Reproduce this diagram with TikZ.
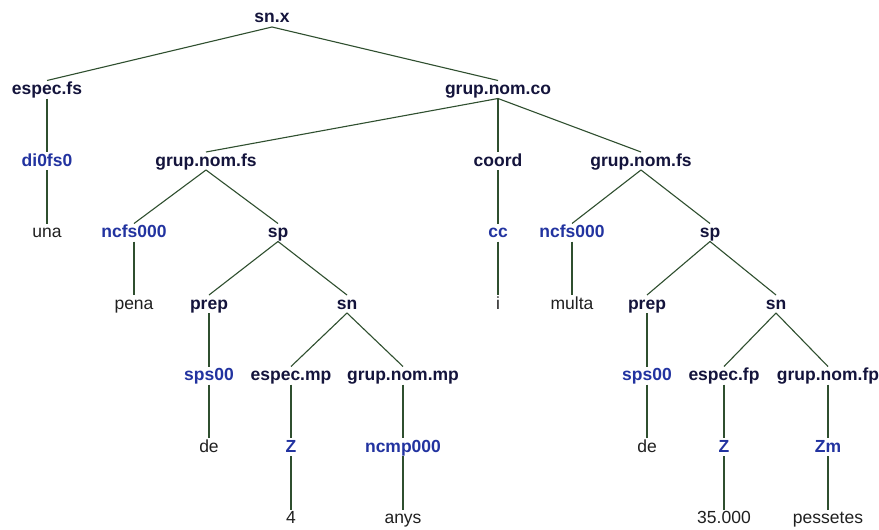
\documentclass[tikz,border=0pt]{standalone}
\usepackage{fontspec}
\setmainfont{Liberation Sans}
\definecolor{catcol}{HTML}{14143C}
\definecolor{poscol}{HTML}{2233A0}
\definecolor{wordcol}{HTML}{202020}
\definecolor{linecol}{HTML}{2F4F2F}
\begin{document}
\begin{tikzpicture}[x=1pt,y=-1pt,
  lbl/.style={anchor=base,inner sep=0pt,outer sep=0pt,text height=14pt,text depth=4pt,font=\fontsize{17.5}{20}\selectfont},
  catlbl/.style={lbl,text=catcol,font=\fontsize{17.5}{20}\selectfont\bfseries},
  taglbl/.style={lbl,text=poscol,font=\fontsize{17.5}{20}\selectfont\bfseries},
  wordlbl/.style={lbl,text=wordcol},
  conn/.style={draw=linecol,line width=1.1pt}]
\useasboundingbox[fill=white] (0,0) rectangle (879,530);
\def\ra{23}\def\rb{94.5}\def\rc{166}\def\rd{237.5}\def\re{309}\def\rf{380.5}\def\rg{452}\def\rh{523.5}
% nodes
\node[catlbl] (root) at (272,\ra) {sn.x};
\node[catlbl] (espec) at (47,\rb) {espec.fs};
\node[taglbl] (di) at (47,\rc) {di0fs0};
\node[wordlbl] (una) at (47,\rd) {una};
\node[catlbl] (gnco) at (498,\rb) {grup.nom.co};
\node[catlbl] (gnfsa) at (206,\rc) {grup.nom.fs};
\node[taglbl] (ncfsa) at (134,\rd) {ncfs000};
\node[wordlbl] (pena) at (134,\re) {pena};
\node[catlbl] (spa) at (278,\rd) {sp};
\node[catlbl] (prepa) at (209,\re) {prep};
\node[taglbl] (spsa) at (209,\rf) {sps00};
\node[wordlbl] (dea) at (209,\rg) {de};
\node[catlbl] (sna) at (347,\re) {sn};
\node[catlbl] (espmp) at (291,\rf) {espec.mp};
\node[taglbl] (za) at (291,\rg) {Z};
\node[wordlbl] (four) at (291,\rh) {4};
\node[catlbl] (gnmp) at (403,\rf) {grup.nom.mp};
\node[taglbl] (ncmp) at (403,\rg) {ncmp000};
\node[wordlbl] (anys) at (403,\rh) {anys};
\node[catlbl] (coord) at (498,\rc) {coord};
\node[taglbl] (cc) at (498,\rd) {cc};
\node[wordlbl] (iw) at (498,\re) {i};
\node[catlbl] (gnfsb) at (641,\rc) {grup.nom.fs};
\node[taglbl] (ncfsb) at (572,\rd) {ncfs000};
\node[wordlbl] (multa) at (572,\re) {multa};
\node[catlbl] (spb) at (710,\rd) {sp};
\node[catlbl] (prepb) at (647,\re) {prep};
\node[taglbl] (spsb) at (647,\rf) {sps00};
\node[wordlbl] (deb) at (647,\rg) {de};
\node[catlbl] (snb) at (776,\re) {sn};
\node[catlbl] (espfp) at (724,\rf) {espec.fp};
\node[taglbl] (zb) at (724,\rg) {Z};
\node[wordlbl] (n35) at (724,\rh) {35.000};
\node[catlbl] (gnfp) at (828,\rf) {grup.nom.fp};
\node[taglbl] (zm) at (828,\rg) {Zm};
\node[wordlbl] (pess) at (828,\rh) {pessetes};
% connectors
\foreach \p/\c in {root/espec,root/gnco,espec/di,di/una,
  gnco/gnfsa,gnco/coord,gnco/gnfsb,
  gnfsa/ncfsa,gnfsa/spa,ncfsa/pena,spa/prepa,spa/sna,prepa/spsa,spsa/dea,
  sna/espmp,sna/gnmp,espmp/za,za/four,gnmp/ncmp,ncmp/anys,
  coord/cc,cc/iw,
  gnfsb/ncfsb,gnfsb/spb,ncfsb/multa,spb/prepb,spb/snb,prepb/spsb,spsb/deb,
  snb/espfp,snb/gnfp,espfp/zb,zb/n35,gnfp/zm,zm/pess}
  \draw[conn] (\p.south) -- (\c.north);
\end{tikzpicture}
\end{document}
